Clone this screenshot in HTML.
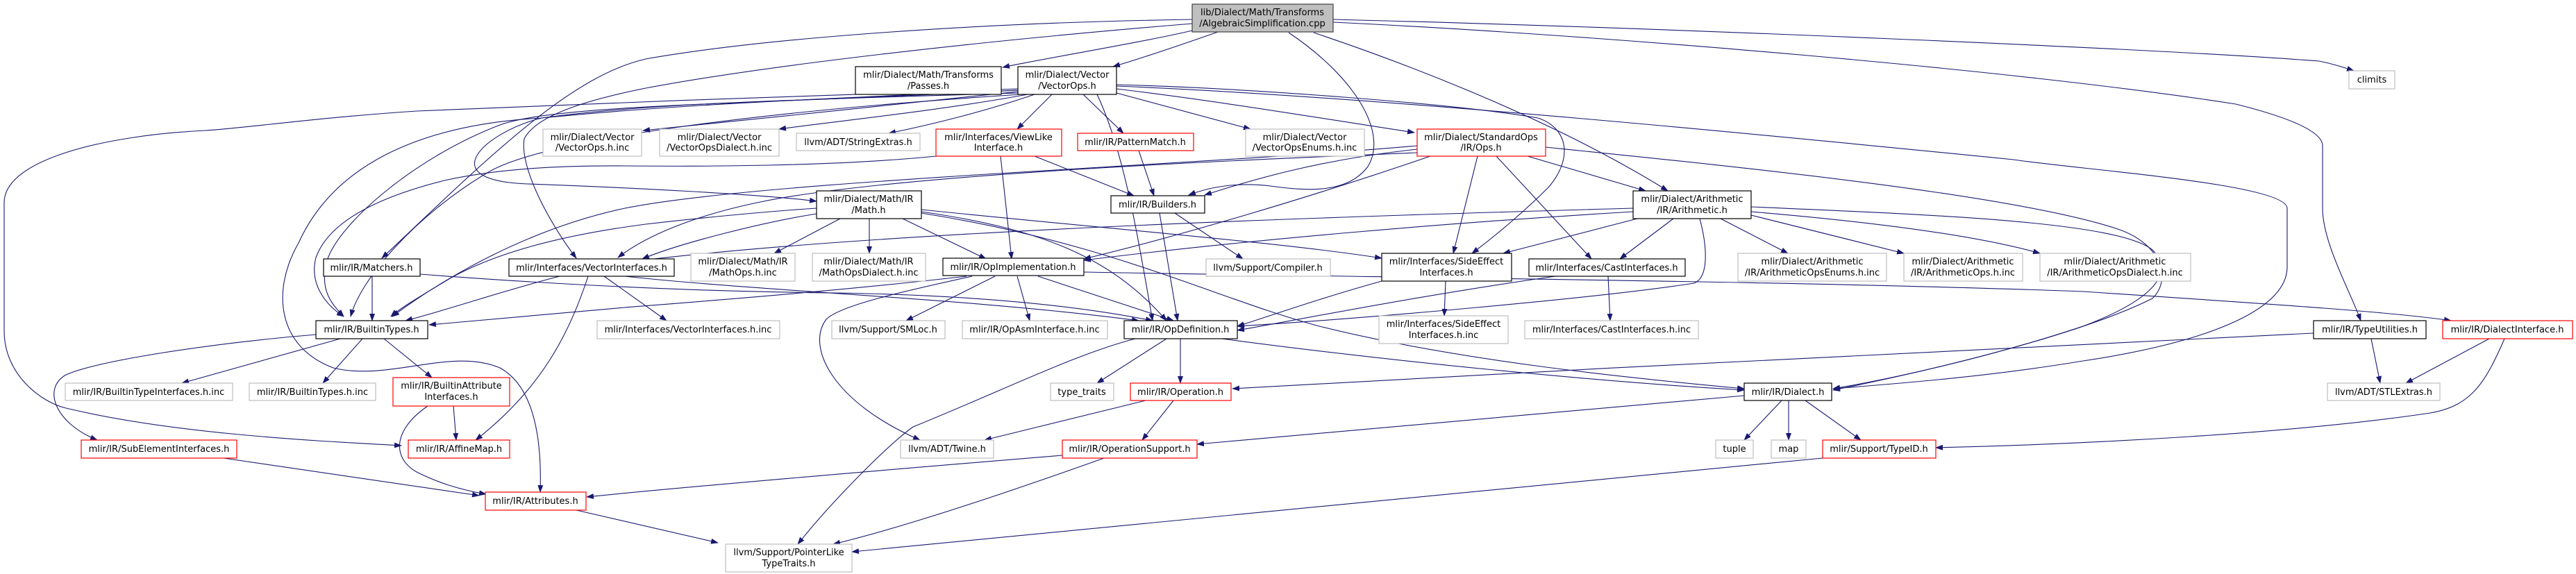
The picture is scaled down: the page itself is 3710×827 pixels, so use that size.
<!DOCTYPE html>
<html><head><meta charset="utf-8"><style>
html,body{margin:0;padding:0;background:#fff;}
svg{display:block;}
text{font-family:"DejaVu Sans","Liberation Sans",sans-serif;font-size:13px;fill:#000;text-anchor:middle;}
.e{fill:none;stroke:#191970;stroke-width:1.1;marker-end:url(#a);}
.g{fill:#fff;stroke:#bfbfbf;stroke-width:1.2;}
.b{fill:#fff;stroke:#000;stroke-width:1.2;}
.r{fill:#fff;stroke:#ff0000;stroke-width:1.2;}
</style></head><body>
<svg width="3710" height="827" viewBox="0 0 3710 827" xmlns="http://www.w3.org/2000/svg">
<defs><marker id="a" markerWidth="11" markerHeight="8" refX="10" refY="4" orient="auto" markerUnits="userSpaceOnUse"><path d="M0,0 L11,4 L0,8 z" fill="#191970"/></marker></defs>

<!-- edges -->
<g>
<!-- root -->
<path class="e" d="M1717,44 C1650,60 1500,85 1444,97"/>
<path class="e" d="M1754,46 C1700,65 1640,85 1603,96"/>
<path class="e" d="M1717,28 C1400,33 1100,55 930,85 C820,110 700,230 550,372"/>
<path class="e" d="M1717,34 C1400,60 1100,95 930,127 C830,147 770,170 755,200 C748,240 790,320 830,372"/>
<path class="e" d="M1856,47 C1950,110 2000,190 1970,240 C1940,280 1880,275 1830,268 C1780,262 1740,270 1712,281"/>
<path class="e" d="M1892,47 C2050,100 2250,180 2402,275"/>
<path class="e" d="M1920,28 C2400,40 3100,70 3340,88 C3360,92 3375,97 3390,102"/>
<path class="e" d="M1920,32 C2300,50 2900,100 3220,150 C3300,170 3345,190 3345,210 L3345,300 C3345,350 3385,420 3400,462"/>
<!-- VectorOps -->
<path class="e" d="M1466,132 C1300,150 1100,170 926,188"/>
<path class="e" d="M1480,136 C1350,160 1200,175 1122,186"/>
<path class="e" d="M1490,136 C1420,160 1340,180 1280,192"/>
<path class="e" d="M1515,136 L1465,186"/>
<path class="e" d="M1560,136 L1618,192"/>
<path class="e" d="M1608,134 L1801,186"/>
<path class="e" d="M1608,128 C1750,145 1900,170 2037,191"/>
<path class="e" d="M1608,124 C2000,140 2600,200 2900,230 C3000,245 3294,265 3294,300 L3294,385 C3294,440 3200,490 3000,520 C2850,545 2700,555 2640,560"/>
<path class="e" d="M1608,122 C1800,127 2100,150 2215,170 C2260,185 2265,230 2230,270 C2200,300 2160,335 2120,365"/>
<path class="e" d="M1466,134 C1100,145 930,150 780,170 C700,190 620,260 760,265 C900,270 1100,280 1176,290"/>
<path class="e" d="M1466,130 C1100,145 930,155 780,170 C600,180 480,240 430,350 C390,420 400,500 480,530 C560,550 650,500 720,530 C775,560 780,650 778,709"/>
<path class="e" d="M1466,128 C1100,140 930,146 600,160 C450,170 350,185 296,188 C150,195 6,230 6,292 L6,477 C6,540 60,580 95,588 C250,625 450,635 578,642"/>
<path class="e" d="M1466,130 C1100,150 800,150 720,180 C590,230 480,330 470,380 C460,420 480,440 495,456"/>
<path class="e" d="M1470,136 C1100,160 780,200 700,250 C600,310 520,400 505,456"/>
<path class="e" d="M1580,136 C1620,220 1640,350 1660,462"/>
<!-- ViewLike -->
<path class="e" d="M1490,225 L1633,282"/>
<path class="e" d="M1441,225 L1457,373"/>
<path class="e" d="M1348,225 C1200,240 1000,240 900,239 C800,238 712,244 640,260 C520,290 470,330 455,371 C445,410 470,440 495,456"/>
<!-- PatternMatch / Builders -->
<path class="e" d="M1640,217 L1662,282"/>
<path class="e" d="M1670,307 L1696,462"/>
<path class="e" d="M1692,307 L1790,373"/>
<!-- StandardOps -->
<path class="e" d="M2041,215 C1900,230 1800,260 1735,281"/>
<path class="e" d="M2060,225 C1900,280 1700,340 1561,373"/>
<path class="e" d="M2041,220 C1800,230 1300,250 1100,290 C1000,310 930,340 890,371"/>
<path class="e" d="M2128,225 L2093,365"/>
<path class="e" d="M2155,225 L2292,373"/>
<path class="e" d="M2200,225 L2370,275"/>
<path class="e" d="M2226,212 C2500,240 2900,280 3050,330 C3110,350 3130,400 3100,430 C3000,480 2800,530 2640,562"/>
<path class="e" d="M2041,210 C1700,240 1100,260 900,300 C760,330 640,400 565,456"/>
<!-- Math -->
<path class="e" d="M1176,308 C1100,320 980,350 925,373"/>
<path class="e" d="M1176,300 C1100,305 1000,315 930,323 C800,340 712,366 650,400 C600,430 575,445 563,456"/>
<path class="e" d="M1210,315 L1115,365"/>
<path class="e" d="M1252,315 L1252,365"/>
<path class="e" d="M1300,315 L1420,373"/>
<path class="e" d="M1327,305 C1500,330 1600,370 1680,462"/>
<path class="e" d="M1327,302 C1600,330 1850,350 1990,372"/>
<path class="e" d="M1327,307 C1600,350 1750,430 1900,470 C2100,520 2350,545 2512,560"/>
<!-- Arithmetic -->
<path class="e" d="M2358,315 L2165,365"/>
<path class="e" d="M2410,315 L2333,373"/>
<path class="e" d="M2478,315 L2575,365"/>
<path class="e" d="M2522,310 L2742,365"/>
<path class="e" d="M2522,305 C2700,320 2850,340 2938,365"/>
<path class="e" d="M2352,305 C2100,320 1800,345 1561,375"/>
<path class="e" d="M2352,300 C2000,310 1300,330 925,375"/>
<path class="e" d="M2448,315 C2460,360 2460,400 2440,408 C2300,430 1950,460 1782,470"/>
<path class="e" d="M2522,298 C2800,310 3050,320 3100,360 C3140,400 3080,440 3000,470 C2850,520 2700,550 2640,560"/>
<!-- SideEffect / Cast -->
<path class="e" d="M2082,405 L2080,455"/>
<path class="e" d="M1990,405 C1900,430 1830,455 1782,470"/>
<path class="e" d="M2316,398 L2319,462"/>
<path class="e" d="M2240,398 C2050,425 1900,455 1782,476"/>
<!-- OpImplementation -->
<path class="e" d="M1392,398 C1200,420 1000,435 900,443 C780,453 680,462 618,468"/>
<path class="e" d="M1433,398 L1305,462"/>
<path class="e" d="M1465,398 L1483,462"/>
<path class="e" d="M1495,398 L1690,462"/>
<path class="e" d="M1400,398 C1300,420 1210,440 1190,460 C1160,500 1200,580 1325,634"/>
<path class="e" d="M1561,392 C2000,400 2600,405 3000,420 C3300,440 3450,450 3530,462"/>
<!-- VectorInterfaces -->
<path class="e" d="M847,398 C820,480 780,560 685,634"/>
<path class="e" d="M806,398 C720,420 650,445 584,462"/>
<path class="e" d="M870,398 L960,462"/>
<path class="e" d="M900,398 C1100,420 1400,430 1640,462"/>
<!-- Matchers -->
<path class="e" d="M536,398 L536,462"/>
<path class="e" d="M605,395 C800,410 1000,420 1200,422 C1400,425 1550,440 1660,462"/>
<!-- BuiltinTypes -->
<path class="e" d="M490,488 L262,552"/>
<path class="e" d="M522,488 L465,552"/>
<path class="e" d="M553,488 L622,544"/>
<path class="e" d="M455,482 C300,495 140,520 95,540 C60,560 80,610 140,634"/>
<path class="e" d="M616,585 C565,620 565,660 600,680 C630,695 660,705 700,712"/>
<path class="e" d="M653,585 L657,634"/>
<path class="e" d="M322,660 L690,714"/>
<path class="e" d="M830,735 L1034,782"/>
<!-- OpDefinition -->
<path class="e" d="M1680,488 L1580,552"/>
<path class="e" d="M1700,488 L1700,552"/>
<path class="e" d="M1760,488 C2000,520 2300,550 2512,562"/>
<path class="e" d="M1635,488 C1550,510 1450,560 1315,615 C1280,640 1200,720 1149,784"/>
<!-- Operation -->
<path class="e" d="M1650,577 L1418,634"/>
<path class="e" d="M1690,577 L1645,634"/>
<path class="e" d="M1530,656 C1300,675 1000,700 845,716"/>
<path class="e" d="M1590,660 C1450,710 1300,760 1200,784"/>
<!-- Dialect -->
<path class="e" d="M2566,577 L2512,634"/>
<path class="e" d="M2576,577 L2576,634"/>
<path class="e" d="M2600,577 L2680,634"/>
<path class="e" d="M2512,570 C2200,600 1900,625 1724,640"/>
<!-- TypeID / TypeUtilities / DialectInterface -->
<path class="e" d="M2625,660 C2200,700 1600,760 1227,795"/>
<path class="e" d="M3332,480 C3000,495 2300,530 1775,560"/>
<path class="e" d="M3607,488 C3580,550 3560,585 3500,595 C3300,625 3000,640 2788,645"/>
<path class="e" d="M3585,488 L3465,552"/>
<path class="e" d="M3415,488 L3428,552"/>
</g>

<!-- nodes -->
<rect x="1717" y="6" width="203" height="40" fill="#bfbfbf" stroke="#404040" stroke-width="1.2"/>
<text x="1818" y="22">lib/Dialect/Math/Transforms</text><text x="1818" y="38">/AlgebraicSimplification.cpp</text>

<rect class="b" x="1232" y="96" width="210" height="40"/><text x="1337" y="112">mlir/Dialect/Math/Transforms</text><text x="1337" y="128">/Passes.h</text>
<rect class="b" x="1466" y="96" width="142" height="40"/><text x="1537" y="112">mlir/Dialect/Vector</text><text x="1537" y="128">/VectorOps.h</text>
<rect class="g" x="3383" y="102" width="66" height="26"/><text x="3416" y="119">climits</text>

<rect class="g" x="782" y="186" width="142" height="39"/><text x="853" y="202">mlir/Dialect/Vector</text><text x="853" y="217">/VectorOps.h.inc</text>
<rect class="g" x="950" y="186" width="172" height="39"/><text x="1036" y="202">mlir/Dialect/Vector</text><text x="1036" y="217">/VectorOpsDialect.h.inc</text>
<rect class="g" x="1147" y="192" width="178" height="25"/><text x="1236" y="209">llvm/ADT/StringExtras.h</text>
<rect class="r" x="1348" y="186" width="181" height="39"/><text x="1438" y="202">mlir/Interfaces/ViewLike</text><text x="1438" y="217">Interface.h</text>
<rect class="r" x="1552" y="192" width="167" height="25"/><text x="1635" y="209">mlir/IR/PatternMatch.h</text>
<rect class="g" x="1794" y="186" width="171" height="39"/><text x="1879" y="202">mlir/Dialect/Vector</text><text x="1879" y="217">/VectorOpsEnums.h.inc</text>
<rect class="r" x="2041" y="186" width="185" height="39"/><text x="2133" y="202">mlir/Dialect/StandardOps</text><text x="2133" y="217">/IR/Ops.h</text>

<rect class="b" x="1176" y="275" width="151" height="40"/><text x="1251" y="291">mlir/Dialect/Math/IR</text><text x="1251" y="307">/Math.h</text>
<rect class="b" x="1600" y="282" width="135" height="25"/><text x="1667" y="299">mlir/IR/Builders.h</text>
<rect class="b" x="2352" y="275" width="170" height="40"/><text x="2437" y="291">mlir/Dialect/Arithmetic</text><text x="2437" y="307">/IR/Arithmetic.h</text>

<rect class="b" x="466" y="373" width="139" height="25"/><text x="535" y="390">mlir/IR/Matchers.h</text>
<rect class="b" x="733" y="373" width="238" height="25"/><text x="852" y="390">mlir/Interfaces/VectorInterfaces.h</text>
<rect class="g" x="995" y="365" width="150" height="40"/><text x="1070" y="381">mlir/Dialect/Math/IR</text><text x="1070" y="397">/MathOps.h.inc</text>
<rect class="g" x="1170" y="365" width="163" height="40"/><text x="1251" y="381">mlir/Dialect/Math/IR</text><text x="1251" y="397">/MathOpsDialect.h.inc</text>
<rect class="b" x="1358" y="372" width="203" height="25"/><text x="1459" y="389">mlir/IR/OpImplementation.h</text>
<rect class="g" x="1737" y="373" width="179" height="25"/><text x="1826" y="390">llvm/Support/Compiler.h</text>
<rect class="b" x="1990" y="365" width="187" height="40"/><text x="2083" y="381">mlir/Interfaces/SideEffect</text><text x="2083" y="397">Interfaces.h</text>
<rect class="b" x="2202" y="373" width="225" height="25"/><text x="2314" y="390">mlir/Interfaces/CastInterfaces.h</text>
<rect class="g" x="2503" y="365" width="214" height="40"/><text x="2610" y="381">mlir/Dialect/Arithmetic</text><text x="2610" y="397">/IR/ArithmeticOpsEnums.h.inc</text>
<rect class="g" x="2742" y="365" width="171" height="40"/><text x="2827" y="381">mlir/Dialect/Arithmetic</text><text x="2827" y="397">/IR/ArithmeticOps.h.inc</text>
<rect class="g" x="2938" y="365" width="217" height="40"/><text x="3046" y="381">mlir/Dialect/Arithmetic</text><text x="3046" y="397">/IR/ArithmeticOpsDialect.h.inc</text>

<rect class="b" x="455" y="462" width="161" height="26"/><text x="535" y="479">mlir/IR/BuiltinTypes.h</text>
<rect class="g" x="860" y="462" width="263" height="26"/><text x="991" y="479">mlir/Interfaces/VectorInterfaces.h.inc</text>
<rect class="g" x="1198" y="462" width="163" height="26"/><text x="1279" y="479">llvm/Support/SMLoc.h</text>
<rect class="g" x="1386" y="462" width="209" height="26"/><text x="1490" y="479">mlir/IR/OpAsmInterface.h.inc</text>
<rect class="b" x="1619" y="462" width="163" height="26"/><text x="1700" y="479">mlir/IR/OpDefinition.h</text>
<rect class="g" x="1986" y="455" width="186" height="40"/><text x="2079" y="471">mlir/Interfaces/SideEffect</text><text x="2079" y="487">Interfaces.h.inc</text>
<rect class="g" x="2196" y="462" width="250" height="26"/><text x="2321" y="479">mlir/Interfaces/CastInterfaces.h.inc</text>
<rect class="b" x="3332" y="462" width="162" height="26"/><text x="3413" y="479">mlir/IR/TypeUtilities.h</text>
<rect class="r" x="3518" y="462" width="187" height="26"/><text x="3611" y="479">mlir/IR/DialectInterface.h</text>

<rect class="g" x="94" y="552" width="241" height="25"/><text x="214" y="569">mlir/IR/BuiltinTypeInterfaces.h.inc</text>
<rect class="g" x="359" y="552" width="182" height="25"/><text x="450" y="569">mlir/IR/BuiltinTypes.h.inc</text>
<rect class="r" x="566" y="544" width="168" height="41"/><text x="650" y="560">mlir/IR/BuiltinAttribute</text><text x="650" y="576">Interfaces.h</text>
<rect class="g" x="1513" y="552" width="91" height="25"/><text x="1558" y="569">type_traits</text>
<rect class="r" x="1628" y="552" width="145" height="25"/><text x="1700" y="569">mlir/IR/Operation.h</text>
<rect class="b" x="2512" y="552" width="126" height="25"/><text x="2575" y="569">mlir/IR/Dialect.h</text>
<rect class="g" x="3352" y="552" width="162" height="25"/><text x="3433" y="569">llvm/ADT/STLExtras.h</text>

<rect class="r" x="117" y="634" width="224" height="26"/><text x="229" y="651">mlir/IR/SubElementInterfaces.h</text>
<rect class="r" x="588" y="634" width="146" height="26"/><text x="661" y="651">mlir/IR/AffineMap.h</text>
<rect class="g" x="1297" y="634" width="134" height="26"/><text x="1364" y="651">llvm/ADT/Twine.h</text>
<rect class="r" x="1530" y="634" width="194" height="26"/><text x="1627" y="651">mlir/IR/OperationSupport.h</text>
<rect class="g" x="2471" y="634" width="54" height="26"/><text x="2498" y="651">tuple</text>
<rect class="g" x="2551" y="634" width="50" height="26"/><text x="2576" y="651">map</text>
<rect class="r" x="2625" y="634" width="163" height="26"/><text x="2706" y="651">mlir/Support/TypeID.h</text>

<rect class="r" x="699" y="709" width="145" height="26"/><text x="771" y="726">mlir/IR/Attributes.h</text>
<rect class="g" x="1045" y="784" width="182" height="40"/><text x="1136" y="800">llvm/Support/PointerLike</text><text x="1136" y="816">TypeTraits.h</text>
</svg>
</body></html>
